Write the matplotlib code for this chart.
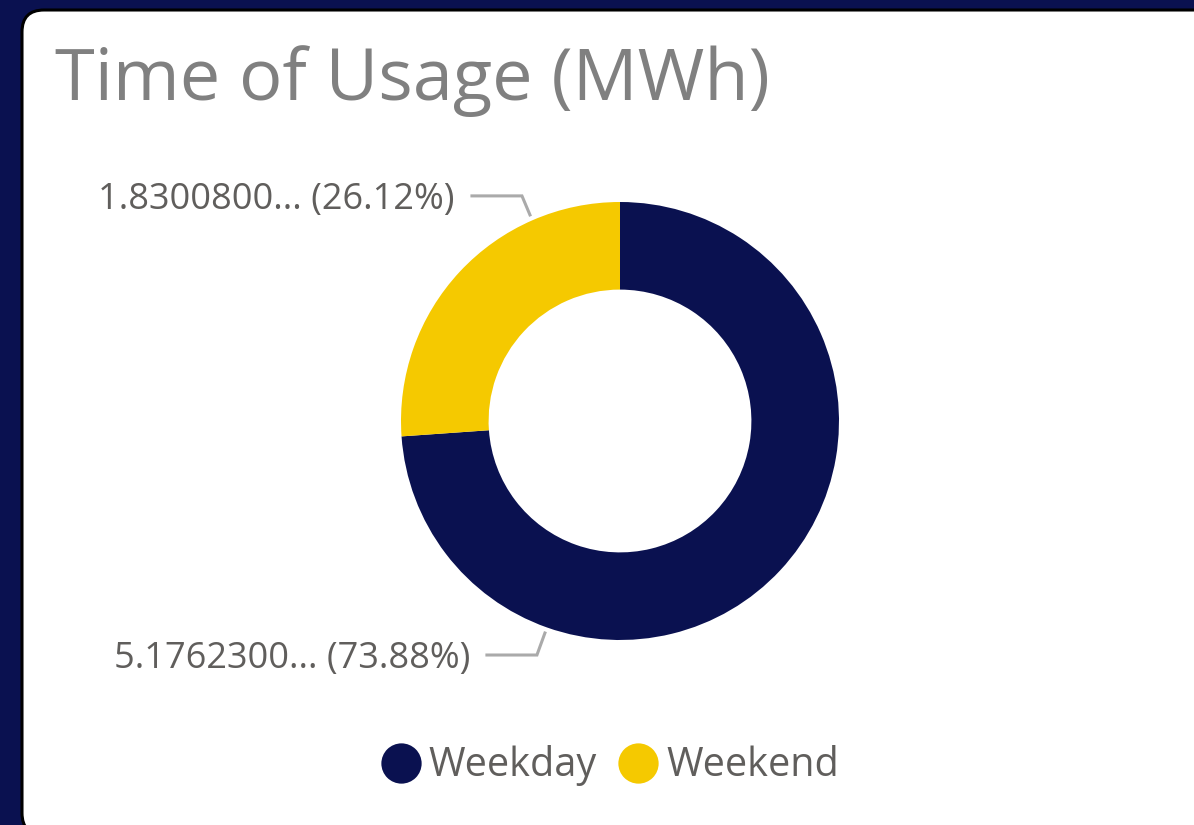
import numpy as np
import matplotlib
matplotlib.use('Agg')
import matplotlib.pyplot as plt
from matplotlib.patches import FancyBboxPatch
from matplotlib.lines import Line2D

# データ
categories = ['Weekday', 'Weekend']
values = [5.17623, 1.83008]
value_labels = ['5.1762300...', '1.8300800...']
colors = ['#0a1150', '#f5c900']
title = 'Time of Usage (MWh)'

plt.rcParams['font.family'] = ['Open Sans', 'DejaVu Sans']

W, H = 1194, 825
fig = plt.figure(figsize=(W / 100, H / 100), dpi=100, facecolor='#0a1150')
ax = fig.add_axes([0, 0, 1, 1])

# カード背景
card = FancyBboxPatch((22, -10), 1250, H,
                      boxstyle='round,pad=0,rounding_size=22',
                      facecolor='white', edgecolor='black', linewidth=2.2,
                      zorder=0)
ax.add_patch(card)

cx, cy, r = 620, H - 421, 219
wedges, _ = ax.pie(values, colors=colors, startangle=90, counterclock=False,
                   radius=r, center=(cx, cy),
                   wedgeprops=dict(width=r * 0.4, linewidth=0))

ax.set_xlim(0, W)
ax.set_ylim(0, H)
ax.set_aspect('equal')
ax.axis('off')

# ラベルとリーダー線
total = sum(values)
label_angles = [250.5, 113.6]   # 線の起点の角度
label_dy = [-22, 19]
for i, (v, lab) in enumerate(zip(values, value_labels)):
    a = np.deg2rad(label_angles[i])
    x0 = cx + r * 1.027 * np.cos(a)
    y0 = cy + r * 1.027 * np.sin(a)
    x1, y1 = x0 - 8, y0 + label_dy[i]
    x2 = x1 - 50
    ax.plot([x0, x1, x2], [y0, y1, y1], color='#aaaaaa', lw=2.2,
            solid_joinstyle='miter', zorder=3)
    ax.text(x2 - 17, y1 - 4, f'{lab} ({v / total * 100:.2f}%)',
            ha='right', va='center', fontsize=26, color='#605e5c')

fig.text(55 / W, 1 - 100 / H, title, ha='left', va='baseline',
         fontsize=52, color='#808080')

handles = [Line2D([], [], marker='o', linestyle='none', markersize=29,
                  markerfacecolor=c, markeredgewidth=0) for c in colors]
fig.legend(handles, categories, loc='center', ncol=2,
           bbox_to_anchor=(610 / W, 1 - 766 / H), frameon=False,
           fontsize=28.5, labelcolor='#605e5c', handlelength=1.0,
           handletextpad=0.2, columnspacing=0.55)

fig.savefig('out.png', dpi=100, facecolor=fig.get_facecolor())
